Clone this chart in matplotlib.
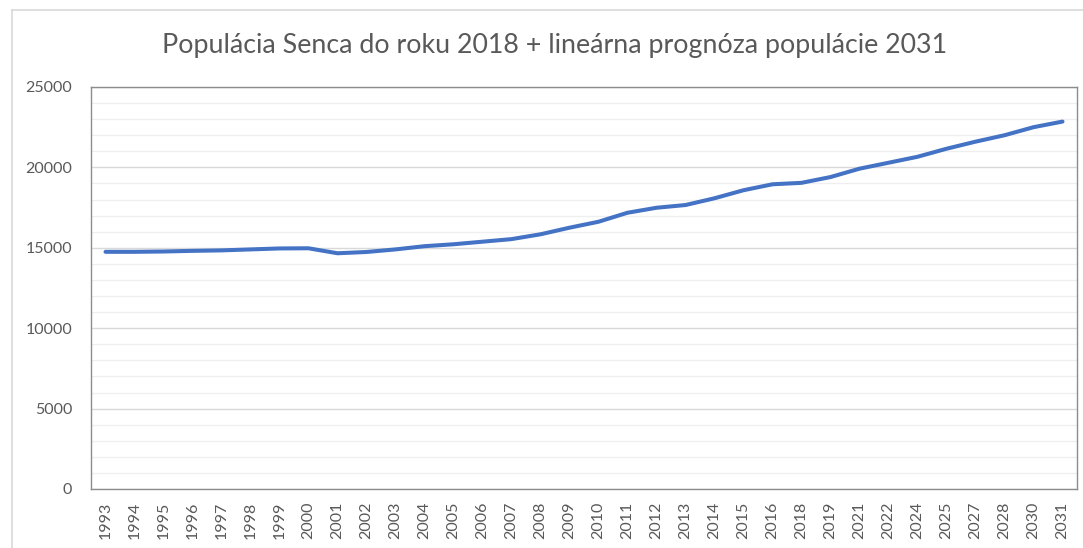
import matplotlib
matplotlib.use("Agg")
import matplotlib.pyplot as plt
from matplotlib.lines import Line2D
from matplotlib.ticker import MultipleLocator

years = ["1993", "1994", "1995", "1996", "1997", "1998", "1999", "2000", "2001", "2002",
         "2003", "2004", "2005", "2006", "2007", "2008", "2009", "2010", "2011", "2012",
         "2013", "2014", "2015", "2016", "2018", "2019", "2021", "2022", "2024", "2025",
         "2027", "2028", "2030", "2031"]
population = [14750, 14750, 14770, 14810, 14840, 14900, 14960, 14970, 14660, 14740,
              14900, 15100, 15220, 15380, 15540, 15840, 16250, 16620, 17180, 17490,
              17660, 18080, 18580, 18950, 19040, 19400, 19920, 20290, 20660, 21160,
              21600, 22000, 22500, 22850]

title = "Populácia Senca do roku 2018 + lineárna prognóza populácie 2031"

plt.rcParams['font.family'] = ['Lato', 'DejaVu Sans']
txt = "#595959"

fig = plt.figure(figsize=(10.83, 5.48), dpi=100)
ax = fig.add_axes([91/1083, 59/548, (1077-91)/1083, (489-87)/548])

x = list(range(len(years)))
ax.plot(x, population, color="#4472C4", linewidth=2.9, solid_capstyle="round", zorder=3)

ax.set_xlim(-0.5, len(years) - 0.5)
ax.set_ylim(0, 25000)
ax.set_xticks(x)
ax.set_xticklabels(years, rotation=90, fontsize=11.5, color=txt)
ax.yaxis.set_major_locator(MultipleLocator(5000))
ax.yaxis.set_minor_locator(MultipleLocator(1000))
ax.tick_params(axis="y", which="both", length=0, pad=13.5, labelsize=11.5, labelcolor=txt)
ax.tick_params(axis="x", which="both", length=0, pad=9)
ax.grid(axis="y", which="major", color="#d9d9d9", linewidth=1.0)
ax.grid(axis="y", which="minor", color="#efefef", linewidth=0.9)
ax.set_axisbelow(True)
for s in ax.spines.values():
    s.set_color("#8c8c8c")
    s.set_linewidth(1.0)

fig.text(555/1083, 1 - 46/548, title, ha="center", va="center", fontsize=19.3, color=txt)

# chart area border (partially visible)
fig.add_artist(Line2D([12/1083, 12/1083], [0, 1 - 10/548], transform=fig.transFigure,
                      color="#d9d9d9", linewidth=1.2))
fig.add_artist(Line2D([12/1083, 1], [1 - 10/548, 1 - 10/548], transform=fig.transFigure,
                      color="#d9d9d9", linewidth=1.2))

fig.savefig("out.png", dpi=100)
